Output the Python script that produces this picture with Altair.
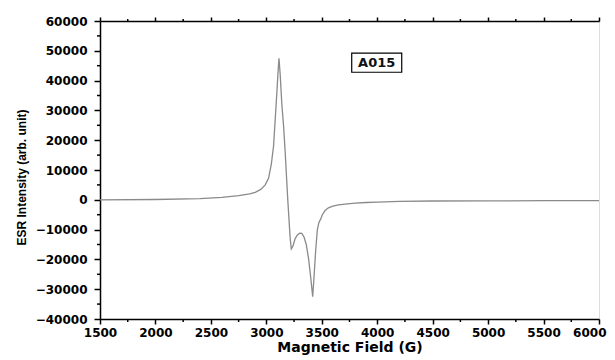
import altair as alt
import pandas as pd

# ESR spectrum
field = [1500, 2000, 2400, 2600, 2750, 2850, 2900, 2950, 2990, 3020, 3045, 3065,
         3080, 3095, 3105, 3114, 3125, 3140, 3155, 3170, 3183, 3195, 3205, 3215,
         3225, 3240, 3260, 3280, 3300, 3320, 3340, 3360, 3380, 3400, 3418, 3430,
         3445, 3460, 3475, 3490, 3505, 3530, 3560, 3600, 3650, 3710, 3800, 3900,
         4000, 4200, 4500, 5000, 5500, 6000]
intensity = [0, 100, 400, 800, 1400, 2000, 2500, 3500, 5000, 7200, 12000, 18000,
             27000, 36000, 42500, 47500, 42000, 32000, 25000, 16000, 7000, -1000, -7000, -13000,
             -16500, -15500, -13000, -11800, -11200, -11300, -12500, -15000, -19500, -26000, -32500, -26000,
             -17000, -10000, -7500, -6500, -5000, -3600, -2700, -2100, -1700, -1450, -1100, -900,
             -750, -550, -400, -350, -300, -300]

x_major = list(range(1500, 6001, 500))
x_minor = list(range(1750, 6000, 500))
y_major = list(range(-40000, 60001, 10000))
y_minor = list(range(-35000, 60000, 10000))

label_text = ["A015"]
label_x = [3995]
label_y = [46000]
box_x = [3770, 4221]
box_y = [42800, 49200]

df = pd.DataFrame({"field": field, "intensity": intensity})
lab = pd.DataFrame({"t": label_text, "x": label_x, "y": label_y,
                    "bx1": [box_x[0]], "bx2": [box_x[1]],
                    "by1": [box_y[0]], "by2": [box_y[1]]})
xmin_df = pd.DataFrame({"v": x_minor})
ymin_df = pd.DataFrame({"v": y_minor})

W, H = 499, 298
FONT = "DejaVu Sans"
xs = alt.Scale(domain=[1500, 6000], nice=False, zero=False)
ys = alt.Scale(domain=[-40000, 60000], nice=False, zero=False)

LAST = "datum.value === 6000"
xaxis = alt.Axis(
    values=x_major, format="d", tickSize=5,
    labelOverlap=False, labelFlush=False, labelPadding=3,
    labelAlign={"condition": {"test": LAST, "value": "right"}, "value": "center"},
    labelOffset={"condition": {"test": LAST, "value": 7}, "value": 0},
    labelFont=FONT, labelFontSize=12, labelFontWeight="bold", labelColor="black",
    title="Magnetic Field (G)", titleFont=FONT, titleFontSize=14, titleFontWeight="bold",
    titleColor="black", titleBaseline="alphabetic", titleY=32,
    grid=False, domainColor="black", domainWidth=1.5, tickColor="black", tickWidth=1.5,
)
yaxis = alt.Axis(
    values=y_major, format="d", tickSize=6,
    labelOverlap=False, labelPadding=7,
    labelFont=FONT, labelFontSize=12, labelFontWeight="bold", labelColor="black",
    title="ESR Intensity (arb. unit)", titleFont="Liberation Sans", titleFontSize=12,
    titleFontWeight="bold", titleColor="black", titleX=-79, titleY=156,
    titleBaseline="middle", titleAlign="center",
    grid=False, domainColor="black", domainWidth=1.5, tickColor="black", tickWidth=1.5,
)
topaxis = alt.Axis(
    orient="top", values=x_major, labels=False, title=None, tickSize=4,
    grid=False, domainColor="black", domainWidth=1.5, tickColor="black", tickWidth=1.5,
)

Y = lambda f: alt.Y(f, scale=ys, axis=yaxis)

line = alt.Chart(df).mark_line(color="#8a8a8a", strokeWidth=1.3).encode(
    x=alt.X("field:Q", scale=xs, axis=xaxis),
    y=Y("intensity:Q"),
)
box = alt.Chart(lab).mark_rect(fill="white", stroke="black", strokeWidth=1.2).encode(
    x=alt.X("bx1:Q", scale=xs, axis=None), x2="bx2:Q",
    y=Y("by1:Q"), y2="by2:Q",
)
txt = alt.Chart(lab).mark_text(font=FONT, fontSize=13, fontWeight="bold", color="#111111",
                               baseline="middle").encode(
    x=alt.X("x:Q", scale=xs, axis=None),
    y=Y("y:Q"),
    text="t:N",
)
# minor ticks (bottom, top and left), placed through the scales
xminor_bottom = alt.Chart(xmin_df).mark_rule(color="black", strokeWidth=1.5).encode(
    x=alt.X("v:Q", scale=xs, axis=None), y=alt.value(H), y2=alt.value(H + 3),
)
xminor_top = alt.Chart(xmin_df).mark_rule(color="black", strokeWidth=1.5).encode(
    x=alt.X("v:Q", scale=xs, axis=None), y=alt.value(0), y2=alt.value(-2),
)
yminor = alt.Chart(ymin_df).mark_rule(color="black", strokeWidth=1.5).encode(
    y=Y("v:Q"), x=alt.value(0), x2=alt.value(-3),
)
top = alt.Chart(df).mark_line(opacity=0).encode(
    x=alt.X("field:Q", scale=xs, axis=topaxis),
    y=Y("intensity:Q"),
)

chart = alt.layer(line, box, txt, xminor_bottom, xminor_top, yminor, top).resolve_scale(
    x="independent"
).properties(
    width=W, height=H,
    autosize="none",
    padding={"left": 92, "top": 13, "right": 8, "bottom": 37},
).configure_view(stroke="black", strokeWidth=1.5).configure(background="white")

chart.save("out.html", embed_options={"renderer": "svg", "actions": False})
